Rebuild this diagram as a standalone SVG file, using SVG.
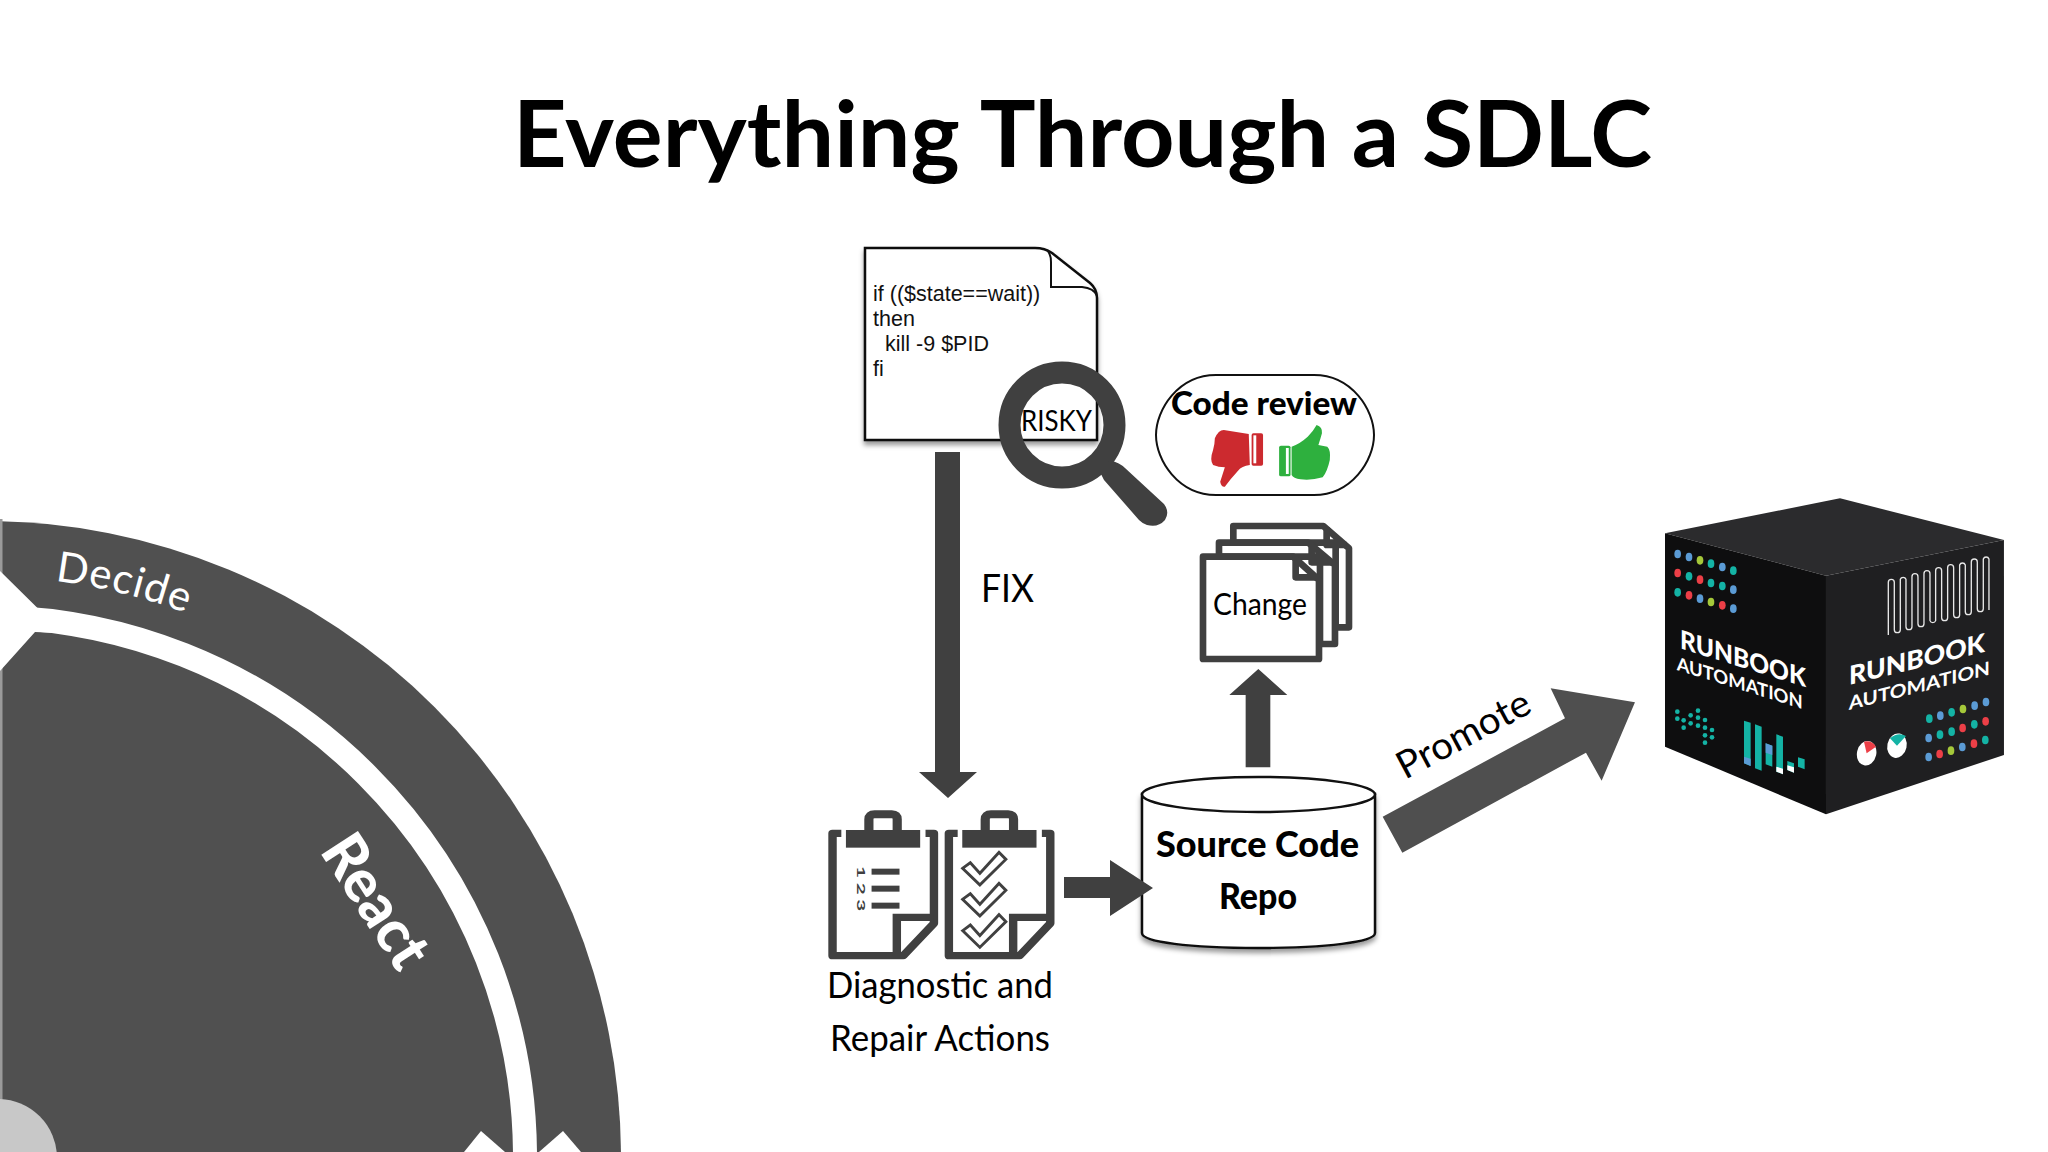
<svg xmlns="http://www.w3.org/2000/svg" xmlns:xlink="http://www.w3.org/1999/xlink" width="2048" height="1152" viewBox="0 0 2048 1152">
<style>
text{font-family:"Lato","Noto Sans","Liberation Sans",sans-serif;fill:#000}
.mono{font-family:"Liberation Sans",Arial,sans-serif;font-size:21.5px;fill:#111}
.dk{fill:#404040}
.w{fill:#fff}
.b{fill:#5b9bd5}.t{fill:#14b3a5}.l{fill:#a5c83a}.r{fill:#ec3f47}
.cube-t{fill:#fff;font-weight:900}
</style>
<defs>
<filter id="sh" x="-5%" y="-5%" width="110%" height="115%"><feDropShadow dx="0" dy="4" stdDeviation="2.5" flood-color="#000" flood-opacity="0.4"/></filter>
<g id="clipboard">
<path d="M108,160H85V527H270L350,430V160H328" fill="#fff" stroke="#404040" stroke-width="22" stroke-linejoin="round"/>
<path d="M253,527V412H350" fill="none" stroke="#404040" stroke-width="22"/>
<rect x="120" y="150" width="194" height="53" class="dk"/>
<path d="M180,150V118Q180,103 195,103H240Q254,103 254,118V150" fill="none" stroke="#404040" stroke-width="24"/>
</g>
<path id="check" d="M425,265L445,248L470,280L520,217L538,238L470,315Z" fill="#fff" stroke="#404040" stroke-width="8"/>
</defs>
<rect width="2048" height="1152" fill="#fff"/>

<text id="title" x="513" y="167" font-size="92" font-weight="700" textLength="1139" lengthAdjust="spacingAndGlyphs">Everything Through a SDLC</text>

<g id="cycle">
<circle cx="-15" cy="1157" r="636" fill="#505050"/>
<circle cx="-15" cy="1157" r="540" fill="none" stroke="#fff" stroke-width="24"/>
<rect x="0" y="519" width="2.5" height="633" fill="#9a9a9a"/>
<polygon points="0,571 38,608.5 60,611 60,633 35,632 0,671" class="w"/>
<circle cx="-2" cy="1158" r="59" fill="#c8c8c8"/>
<polygon points="481,1131 505,1152 464,1152" class="w"/>
<polygon points="563,1131 581,1152 539,1152" class="w"/>
<path id="decideArc" d="M55,581A580,580 0 0 1 220,627" fill="none"/>
<text font-size="42" style="fill:#fff" letter-spacing="1"><textPath xlink:href="#decideArc" href="#decideArc">Decide</textPath></text>
<text transform="translate(319,851) rotate(57)" font-size="60" font-weight="900" style="fill:#fff" textLength="146" lengthAdjust="spacingAndGlyphs">React</text>
</g>

<g id="script-doc">
<path d="M865,248H1035Q1045,248 1052,253L1090,283Q1097,289 1097,298V440H865Z" fill="#fff" stroke="#111" stroke-width="2.5" filter="url(#sh)"/>
<path d="M1047,250Q1051,254 1051,262V287H1082Q1094,288 1097,296" fill="none" stroke="#111" stroke-width="2"/>
<text class="mono" x="873" y="301">if (($state==wait))</text>
<text class="mono" x="873" y="326">then</text>
<text class="mono" x="885" y="351">kill -9 $PID</text>
<text class="mono" x="873" y="376">fi</text>
</g>

<g id="magnifier">
<text x="1021" y="431" font-size="29" textLength="71" lengthAdjust="spacingAndGlyphs">RISKY</text>
<circle cx="1062" cy="425" r="52.5" fill="none" stroke="#404040" stroke-width="22"/>
<path d="M1099,470L1110,460Q1120,463 1125,468L1164,504Q1170,512 1165,520Q1158,528 1147,525Q1143,524 1139,520L1104,480Z" class="dk"/>
</g>

<g id="code-review">
<path d="M1216,375H1314C1352,375 1374,410 1374,435C1374,460 1352,495 1314,495H1216C1178,495 1156,460 1156,435C1156,410 1178,375 1216,375Z" fill="#fff" stroke="#111" stroke-width="2"/>
<text x="1171" y="415" font-size="32" font-weight="900" textLength="186" lengthAdjust="spacingAndGlyphs">Code review</text>
<g transform="translate(840,230) scale(.357,.3333)">
<path d="M1145,612L1075,600Q1060,600 1050,625Q1050,640 1045,660Q1035,690 1045,705Q1060,712 1078,712L1065,755Q1068,772 1078,770Q1095,745 1115,722Q1125,708 1148,705Z" fill="#cc2a2f"/>
<rect x="1153" y="610" width="32" height="97" rx="5" fill="#cc2a2f"/><rect x="1158" y="616" width="8" height="84" class="w"/>
<path d="M1265,650Q1290,640 1310,620Q1325,605 1335,585Q1352,590 1350,610Q1345,630 1340,645L1365,650Q1375,660 1372,690Q1365,725 1352,742Q1320,752 1290,748Q1270,745 1265,735Z" fill="#2eb03e"/>
<rect x="1230" y="647" width="32" height="92" rx="5" fill="#2eb03e"/><rect x="1249" y="654" width="8" height="78" class="w"/>
</g>
</g>

<g id="change" transform="translate(1130,500) scale(.3333)">
<g fill="#fff" stroke="#404040" stroke-width="20" stroke-linejoin="round">
<path d="M310,128V78H580L657,145V382H617V128Z"/>
<path d="M590,82V135H650" fill="none"/>
<path d="M267,170V128H535L615,195V432H570V170Z"/>
<path d="M545,130V187H608" fill="none"/>
<path d="M219,170H490L567,240V477H219Z"/>
<path d="M497,172V232H565" fill="none"/>
</g>
</g>
<text x="1213" y="615" font-size="31" textLength="94" lengthAdjust="spacingAndGlyphs">Change</text>

<g id="actions">
<g transform="translate(800,780) scale(.3827,.3333)">
<use href="#clipboard" xlink:href="#clipboard"/>
<use href="#clipboard" xlink:href="#clipboard" x="304"/>
<text transform="translate(148,258) rotate(90) scale(2,1)" font-size="31" font-weight="700" style="fill:#404040" textLength="68">123</text>
<rect x="187" y="266" width="73" height="18" class="dk"/><rect x="187" y="317" width="73" height="18" class="dk"/><rect x="187" y="368" width="73" height="18" class="dk"/>
<use href="#check" xlink:href="#check"/><use href="#check" xlink:href="#check" y="93"/><use href="#check" xlink:href="#check" y="187"/>
</g>
<text x="827" y="998" font-size="36" textLength="226" lengthAdjust="spacingAndGlyphs">Diagnostic and</text>
<text x="830" y="1051" font-size="36" textLength="220" lengthAdjust="spacingAndGlyphs">Repair Actions</text>
</g>

<g id="repo">
<path d="M1142,794V933C1142,942 1190,948 1258,948S1375,942 1375,933V794Z" fill="#fff" stroke="#111" stroke-width="2.5" filter="url(#sh)"/>
<ellipse cx="1258.5" cy="794.5" rx="116.5" ry="17.5" fill="#fff" stroke="#111" stroke-width="2.5"/>
<text x="1156" y="857" font-size="36" font-weight="900" textLength="203" lengthAdjust="spacingAndGlyphs">Source Code</text>
<text x="1219" y="909" font-size="36" font-weight="900" textLength="78" lengthAdjust="spacingAndGlyphs">Repo</text>
</g>

<g id="connectors">
<polygon id="fix-arrow" class="dk" points="935,452 960,452 960,772 977,772 948,798 919,772 935,772"/>
<polygon id="to-repo" class="dk" points="1064,877 1110,877 1110,860 1153,888 1110,916 1110,898 1064,898"/>
<g transform="translate(1130,500) scale(.3333)"><polygon id="to-change" class="dk" points="347,802 347,585 298,585 385,507 472,585 421,585 421,802"/></g>
<g transform="translate(1380,680) scale(.3333)"><polygon id="promote" fill="#4f4f4f" points="8,410 555,115 512,25 765,67 665,302 618,218 67,518"/></g>
<text x="981" y="602" font-size="39" textLength="53" lengthAdjust="spacingAndGlyphs">FIX</text>
<text transform="translate(1405,780) rotate(-28)" font-size="38" textLength="146" lengthAdjust="spacingAndGlyphs">Promote</text>
</g>

<g id="runbook-cube" transform="translate(1640,480) scale(.3333)">
<polygon points="75,160 600,55 1092,180 558,287" fill="#2b2b2d"/>
<polygon points="75,160 558,287 558,1003 75,800" fill="#0e0e0f"/>
<polygon points="558,287 1092,180 1092,825 558,1003" fill="#1f1f21"/>
<g id="left-dots">
<ellipse class="b" cx="113" cy="222" rx="10" ry="13"/><ellipse class="b" cx="147" cy="231" rx="10" ry="13"/><ellipse class="l" cx="180" cy="241" rx="10" ry="13"/><ellipse class="t" cx="213" cy="251" rx="10" ry="13"/><ellipse class="b" cx="247" cy="261" rx="10" ry="13"/><ellipse class="t" cx="280" cy="272" rx="10" ry="13"/>
<ellipse class="r" cx="113" cy="279" rx="10" ry="13"/><ellipse class="t" cx="147" cy="289" rx="10" ry="13"/><ellipse class="r" cx="180" cy="299" rx="10" ry="13"/><ellipse class="t" cx="213" cy="309" rx="10" ry="13"/><ellipse class="t" cx="247" cy="318" rx="10" ry="13"/><ellipse class="b" cx="280" cy="329" rx="10" ry="13"/>
<ellipse class="t" cx="113" cy="337" rx="10" ry="13"/><ellipse class="r" cx="147" cy="346" rx="10" ry="13"/><ellipse class="b" cx="180" cy="356" rx="10" ry="13"/><ellipse class="l" cx="213" cy="366" rx="10" ry="13"/><ellipse class="r" cx="247" cy="376" rx="10" ry="13"/><ellipse class="b" cx="280" cy="386" rx="10" ry="13"/>
</g>
<text class="cube-t" transform="matrix(1,.31,0,1,120,505)" font-size="78" style="fill:#fff" textLength="378" lengthAdjust="spacingAndGlyphs">RUNBOOK</text>
<text class="cube-t" transform="matrix(1,.31,0,1,110,570)" font-size="56" style="fill:#fff;font-weight:700" textLength="378" lengthAdjust="spacingAndGlyphs">AUTOMATION</text>
<text class="cube-t" transform="matrix(1,-.245,0,1,627,615)" font-size="78" style="fill:#fff" textLength="408" lengthAdjust="spacingAndGlyphs">RUNBOOK</text>
<text class="cube-t" transform="matrix(1,-.25,0,1,626,690)" font-size="56" style="fill:#fff;font-weight:700" textLength="424" lengthAdjust="spacingAndGlyphs">AUTOMATION</text>
<g id="small-dots" class="t">
<circle cx="112" cy="695" r="7"/><circle cx="112" cy="716" r="7"/><circle cx="131" cy="721" r="7"/><circle cx="131" cy="743" r="7"/><circle cx="152" cy="706" r="7"/><circle cx="152" cy="730" r="7"/><circle cx="174" cy="692" r="7"/><circle cx="174" cy="713" r="7"/><circle cx="174" cy="737" r="7"/><circle cx="195" cy="720" r="7"/><circle cx="195" cy="743" r="7"/><circle cx="195" cy="766" r="7"/><circle cx="195" cy="788" r="7"/><circle cx="216" cy="750" r="7"/><circle cx="216" cy="772" r="7"/>
</g>
<g id="bars">
<polygon class="t" points="312,722 332,728 332,858 312,850"/><polygon class="b" points="312,830 332,836 332,858 312,850"/>
<polygon class="t" points="345,733 365,740 365,872 345,865"/>
<polygon class="t" points="377,790 397,797 397,860 377,853"/><polygon class="b" points="377,790 397,797 397,825 377,818"/>
<polygon class="t" points="409,763 429,770 429,883 409,875"/><polygon class="w" points="409,860 429,866 429,883 409,875"/>
<polygon class="t" points="442,843 462,850 462,878 442,870"/><polygon class="w" points="442,856 462,862 462,878 442,870"/>
<polygon class="t" points="474,832 494,838 494,868 474,860"/>
</g>
<path id="squiggle" d="M745,465V307A9,9 0 0 1 763,307V449A9,9 0 0 0 781,449V298A9,9 0 0 1 798,298V440A9,9 0 0 0 816,440V290A9,9 0 0 1 834,290V431A9,9 0 0 0 852,431V281A9,9 0 0 1 870,281V422A9,9 0 0 0 887,422V272A9,9 0 0 1 905,272V413A9,9 0 0 0 923,413V263A9,9 0 0 1 941,263V404A9,9 0 0 0 959,404V255A9,9 0 0 1 976,255V395A9,9 0 0 0 994,395V246A9,9 0 0 1 1012,246V386A9,9 0 0 0 1030,386V237A9,9 0 0 1 1047,237V390" fill="none" stroke="#e8e8e8" stroke-width="4"/>
<g id="pies">
<ellipse class="w" cx="680" cy="820" rx="29" ry="37" transform="rotate(12 680 820)"/>
<path class="r" d="M680,820L672,785Q695,780 708,800Z"/>
<ellipse class="w" cx="771" cy="797" rx="29" ry="37" transform="rotate(12 771 797)"/>
<path class="t" d="M771,797L750,775Q775,755 798,768Z"/>
</g>
<g id="right-dots">
<ellipse class="t" cx="868" cy="716" rx="10" ry="13"/><ellipse class="b" cx="901" cy="707" rx="10" ry="13"/><ellipse class="t" cx="935" cy="697" rx="10" ry="13"/><ellipse class="l" cx="969" cy="687" rx="10" ry="13"/><ellipse class="b" cx="1004" cy="677" rx="10" ry="13"/><ellipse class="b" cx="1038" cy="666" rx="10" ry="13"/>
<ellipse class="b" cx="866" cy="774" rx="10" ry="13"/><ellipse class="t" cx="900" cy="764" rx="10" ry="13"/><ellipse class="t" cx="935" cy="755" rx="10" ry="13"/><ellipse class="r" cx="968" cy="744" rx="10" ry="13"/><ellipse class="t" cx="1003" cy="733" rx="10" ry="13"/><ellipse class="r" cx="1037" cy="724" rx="10" ry="13"/>
<ellipse class="b" cx="866" cy="831" rx="10" ry="13"/><ellipse class="r" cx="899" cy="822" rx="10" ry="13"/><ellipse class="l" cx="933" cy="812" rx="10" ry="13"/><ellipse class="b" cx="967" cy="801" rx="10" ry="13"/><ellipse class="r" cx="1002" cy="791" rx="10" ry="13"/><ellipse class="t" cx="1036" cy="780" rx="10" ry="13"/>
</g>
</g>
</svg>
